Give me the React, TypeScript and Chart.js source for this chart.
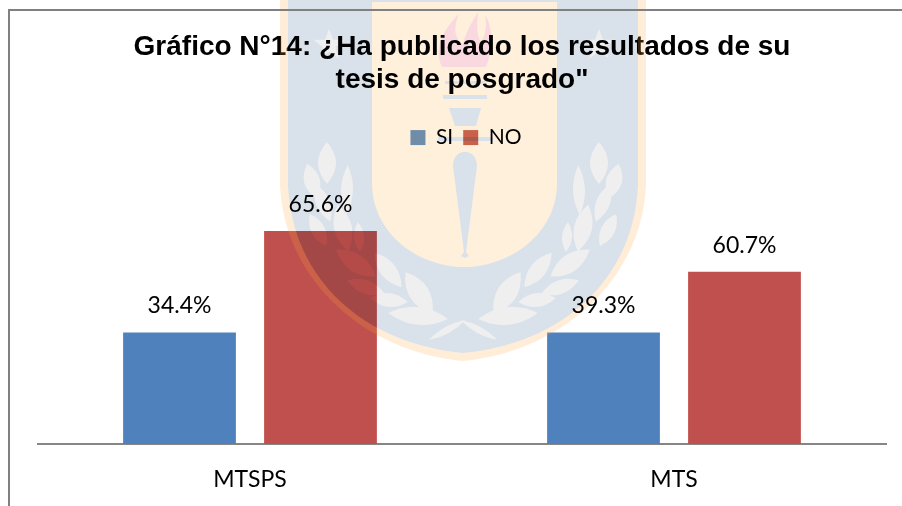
import React, { useEffect, useRef } from "react";
import { Chart, registerables } from "chart.js";

Chart.register(...registerables);

const categories = ["MTSPS", "MTS"];
const seriesNames = ["SI", "NO"];
const siCounts = [11, 11];
const noCounts = [21, 17];
const siLabels = ["34.4%", "39.3%"];
const noLabels = ["65.6%", "60.7%"];
const titleLines = ["Gráfico N°14: ¿Ha publicado los resultados de su", "tesis de posgrado\""];
const siColor = "#4F81BD";
const noColor = "#C0504D";
const bodyFont = "Lato";

function shield(c: any, l: number, bottom: number) {
  const r = 926 - l;
  c.moveTo(l, 0);
  c.lineTo(l, 185);
  c.bezierCurveTo(l + 4, 280, 365, bottom - 9, 463, bottom);
  c.bezierCurveTo(561, bottom - 9, r - 4, 280, r, 185);
  c.lineTo(r, 0);
  c.closePath();
}

function leaf(c: CanvasRenderingContext2D, x: number, y: number, len: number, w: number, rot: number) {
  c.save();
  c.translate(x, y);
  c.rotate(rot);
  c.beginPath();
  c.moveTo(-len / 2, 0);
  c.quadraticCurveTo(0, -w, len / 2, 0);
  c.quadraticCurveTo(0, w, -len / 2, 0);
  c.fill();
  c.restore();
}

function star(c: CanvasRenderingContext2D, x: number, y: number, rad: number) {
  c.beginPath();
  for (let i = 0; i < 10; i++) {
    const a = -Math.PI / 2 + (i * Math.PI) / 5;
    const d = i % 2 === 0 ? rad : rad * 0.42;
    c.lineTo(x + d * Math.cos(a), y + d * Math.sin(a));
  }
  c.closePath();
  c.fill();
}

const leafSpots: number[][] = [
  [327, 163, 42, 18, 1.57], [312, 181, 36, 16, 1.3], [347, 190, 50, 12, 1.6], [323, 203, 40, 14, 1.2],
  [318, 230, 36, 14, 1.1], [343, 228, 48, 18, 1.35], [359, 237, 30, 10, 1.5], [356, 263, 48, 18, 0.6],
  [388, 270, 44, 16, 0.9], [366, 287, 40, 14, 0.35], [419, 293, 50, 20, 1.0], [389, 300, 38, 14, 0.1],
  [418, 316, 60, 18, 0.1], [447, 330, 42, 7, -0.5],
];

function buildWatermark(): HTMLCanvasElement {
  const o = document.createElement("canvas");
  o.width = 902;
  o.height = 506;
  const c = o.getContext("2d")!;
  c.fillStyle = "#D9E1EA";
  c.beginPath();
  shield(c, 288, 353);
  c.fill();
  c.fillStyle = "#EFEFEF";
  for (const [x, y, len, w, rot] of leafSpots) {
    leaf(c, x, y, len, w, rot);
    leaf(c, 926 - x, y, len, w, -rot);
  }
  star(c, 329, 45, 16);
  star(c, 599, 45, 16);
  c.fillStyle = "#FFF0DC";
  c.beginPath();
  c.moveTo(372, 2);
  c.lineTo(372, 183);
  c.bezierCurveTo(372, 235, 420, 267, 464, 267);
  c.bezierCurveTo(508, 267, 557, 235, 557, 183);
  c.lineTo(557, 2);
  c.closePath();
  c.fill();
  c.fillStyle = "#F9D8E0";
  c.beginPath();
  c.moveTo(442, 67);
  c.bezierCurveTo(434, 50, 442, 30, 459, 14);
  c.bezierCurveTo(452, 30, 456, 40, 463, 44);
  c.bezierCurveTo(466, 32, 472, 22, 478, 12);
  c.bezierCurveTo(476, 30, 478, 38, 481, 42);
  c.bezierCurveTo(486, 34, 487, 24, 485, 14);
  c.bezierCurveTo(494, 30, 493, 50, 486, 67);
  c.closePath();
  c.fill();
  c.fillStyle = "#D9E1EA";
  c.fillRect(445, 81, 40, 3);
  c.fillRect(443, 95, 44, 4);
  c.beginPath();
  c.moveTo(449, 108);
  c.lineTo(481, 108);
  c.lineTo(476, 126);
  c.lineTo(455, 126);
  c.closePath();
  c.fill();
  c.fillRect(438, 137, 55, 4);
  c.beginPath();
  c.moveTo(453, 166);
  c.bezierCurveTo(453, 147, 477, 147, 477, 166);
  c.lineTo(466, 252);
  c.lineTo(469, 256);
  c.lineTo(465, 258);
  c.lineTo(461, 256);
  c.lineTo(464, 252);
  c.closePath();
  c.fill();
  return o;
}

const decorPlugin = {
  id: "decor",
  afterLayout(chart: any) {
    chart.legend.left += 8;
  },
  afterDatasetsDraw(chart: any) {
    const ctx: CanvasRenderingContext2D = chart.ctx;
    ctx.save();
    ctx.globalCompositeOperation = "multiply";
    ctx.drawImage(buildWatermark(), 0, 0);
    ctx.globalCompositeOperation = "source-over";
    ctx.fillStyle = "rgba(255,165,60,0.2)";
    ctx.beginPath();
    shield(ctx, 280, 361);
    shield(ctx, 288, 353);
    ctx.fill("evenodd");
    ctx.restore();

    ctx.save();
    ctx.fillStyle = "#000";
    ctx.font = `23px ${bodyFont}`;
    ctx.textAlign = "center";
    ctx.textBaseline = "alphabetic";
    const all = [siLabels, noLabels];
    all.forEach((labels, d) => {
      chart.getDatasetMeta(d).data.forEach((bar: any, i: number) => {
        ctx.fillText(labels[i], bar.x, bar.y - 19);
      });
    });
    ctx.strokeStyle = "#808080";
    ctx.lineWidth = 2;
    ctx.beginPath();
    ctx.moveTo(902, 10);
    ctx.lineTo(9, 10);
    ctx.lineTo(9, 506);
    ctx.stroke();
    ctx.restore();
  },
};

export default function App() {
  const ref = useRef<HTMLCanvasElement>(null);
  useEffect(() => {
    const chart = new Chart(ref.current!, {
      type: "bar",
      data: {
        labels: categories,
        datasets: [
          { label: seriesNames[0], data: siCounts, backgroundColor: siColor, barPercentage: 0.8, categoryPercentage: 0.665 },
          { label: seriesNames[1], data: noCounts, backgroundColor: noColor, barPercentage: 0.8, categoryPercentage: 0.665 },
        ],
      },
      options: {
        responsive: false,
        animation: false,
        layout: { padding: { left: 38, right: 16, top: 0, bottom: 0 } },
        plugins: {
          title: {
            display: true,
            text: titleLines,
            color: "#000",
            font: { family: "Liberation Sans", size: 28, weight: "bold", lineHeight: 1.18 },
            padding: { top: 31, bottom: 20 },
          },
          legend: {
            display: true,
            position: "top",
            labels: {
              color: "#000",
              boxWidth: 15,
              boxHeight: 15,
              padding: 10,
              font: { family: bodyFont, size: 21 },
              generateLabels: () => [
                { text: seriesNames[0], fillStyle: "#6F95C3", strokeStyle: "#6F95C3", lineWidth: 0, datasetIndex: 0 },
                { text: seriesNames[1], fillStyle: "#C96655", strokeStyle: "#C96655", lineWidth: 0, datasetIndex: 1 },
              ],
            },
          },
          tooltip: { enabled: false },
        },
        scales: {
          x: {
            grid: { display: false, drawTicks: false },
            border: { color: "#868686", width: 2 },
            ticks: { color: "#000", font: { family: bodyFont, size: 23 }, padding: 22 },
            afterFit(scale: any) {
              scale.height = 62;
            },
          },
          y: { display: false, min: 0, max: 28.2, grid: { display: false } },
        },
      },
      plugins: [decorPlugin],
    } as any);
    return () => chart.destroy();
  }, []);
  return (
    <div style={{ position: "fixed", left: 0, top: 0, width: 902, height: 506, background: "#fff" }}>
      <canvas ref={ref} width={902} height={506} style={{ display: "block" }} />
    </div>
  );
}
